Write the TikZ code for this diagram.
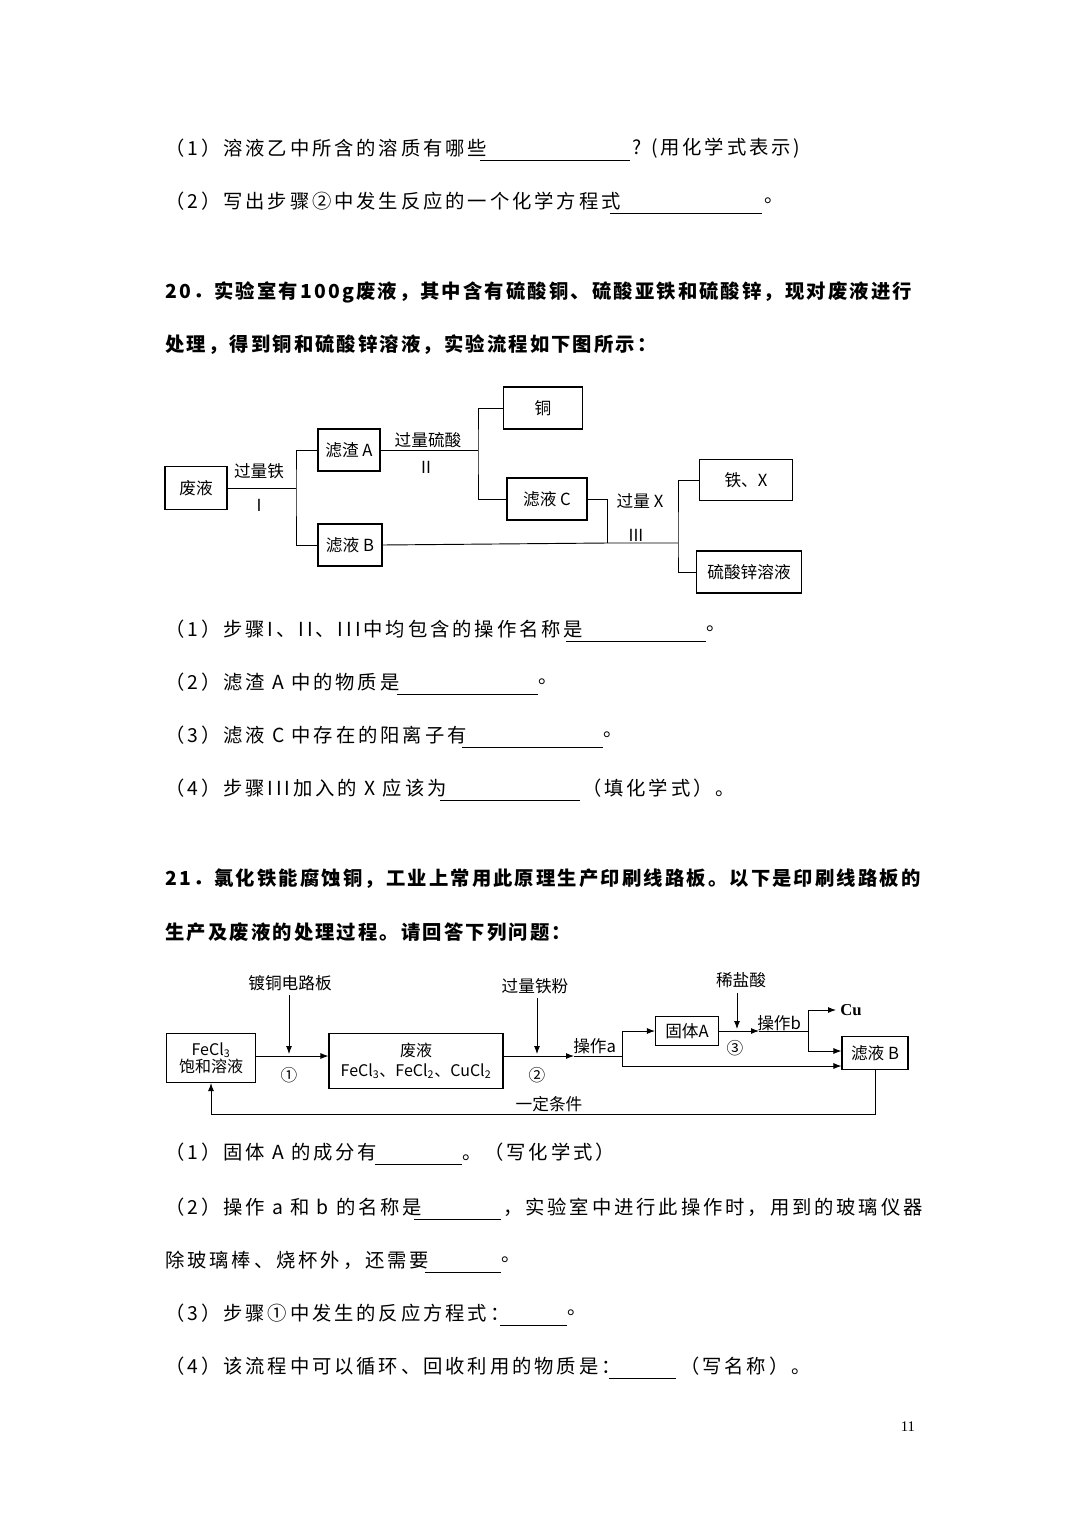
\documentclass[tikz,border=0pt]{standalone}
\usepackage{fontspec}
\setmainfont{Liberation Serif}
\newfontfamily\cjk{Noto Sans CJK SC}
\newfontfamily\cjkt[LetterSpace=15]{Noto Sans CJK SC}
\newfontfamily\cjkh[LetterSpace=11]{Noto Sans CJK SC}
\usetikzlibrary{arrows.meta}
\begin{document}
\begin{tikzpicture}[x=0.75pt,y=-0.75pt,
  txt/.style={anchor=west,inner sep=0,font=\cjkt\fontsize{14.5}{16}\selectfont},
  hd/.style={anchor=west,inner sep=0,font=\cjkh\bfseries\fontsize{14.5}{16}\selectfont},
  bx/.style={draw,line width=0.8pt,minimum height=#1*0.75pt,inner sep=0,font=\cjk\fontsize{12.5}{14}\selectfont},
  lb/.style={inner sep=0,font=\cjk\fontsize{12.5}{14}\selectfont},
  ln/.style={line width=0.7pt},
  ar/.style={line width=0.7pt,-{Latex[length=6pt,width=4.5pt]}},
  ul/.style={line width=0.5pt}]
\path[fill=white] (0,0) rectangle (1080,1528);
% ---- text
\node[txt] (t1) at (165,148) {（1）溶液乙中所含的溶质有哪些};
\draw[ul] (480,160) -- (630,160);
\node[txt] (t1b) at (632,148) {? (用化学式表示)};
\node[txt] (t2) at (165,201) {（2）写出步骤②中发生反应的一个化学方程式};
\draw[ul] (610,213) -- (762,213);
\node[txt] at (764,201) {。};
\node[hd] (t3) at (165,292) {20．实验室有100g废液，其中含有硫酸铜、硫酸亚铁和硫酸锌，现对废液进行};
\node[hd] (t4) at (165,345) {处理，得到铜和硫酸锌溶液，实验流程如下图所示：};
% ---- diagram 1
\node[bx=43,minimum width=62*0.75pt] (fy) at (196,488) {废液};
\node[bx=42,minimum width=62*0.75pt] (lza) at (349,450) {滤渣 A};
\node[bx=42,minimum width=64*0.75pt] (lyb) at (350,545) {滤液 B};
\node[bx=42,minimum width=79*0.75pt] (tong) at (543,408) {铜};
\node[bx=42,minimum width=80*0.75pt] (lyc) at (547,499) {滤液 C};
\node[bx=41,minimum width=93*0.75pt] (tx) at (746,480) {铁、X};
\node[bx=42,minimum width=105*0.75pt] (zn) at (749,572) {硫酸锌溶液};
\coordinate (j1) at (296,488);
\draw[ln] (fy.east) -- (j1);
\draw[ln] (lza.west) -| (j1) |- (lyb.west);
\node[lb] at (259,471) {过量铁};
\node[lb] at (259,505) {I};
\coordinate (j2) at (478,450);
\draw[ln] (lza.east) -- (j2);
\draw[ln] (tong.west) -| (j2) |- (lyc.west);
\node[lb] at (428,440) {过量硫酸};
\node[lb] at (426,467) {II};
\coordinate (j3) at (607,543);
\coordinate (j4) at (678,543);
\draw[ln] (lyc.east) -| (j3);
\draw[ln] (lyb.east) -- (j3) -- (j4);
\draw[ln] (tx.west) -| (j4) |- (zn.west);
\node[lb] at (640,501) {过量 X};
\node[lb] at (636,535) {III};
% ---- questions
\node[txt] at (165,629) {（1）步骤I、II、III中均包含的操作名称是};
\draw[ul] (566,641) -- (706,641);
\node[txt] at (706,629) {。};
\node[txt] at (165,682) {（2）滤渣 A 中的物质是};
\draw[ul] (397,694) -- (538,694);
\node[txt] at (538,682) {。};
\node[txt] at (165,735) {（3）滤液 C 中存在的阳离子有};
\draw[ul] (462,747) -- (603,747);
\node[txt] at (603,735) {。};
\node[txt] at (165,788) {（4）步骤III加入的 X 应该为};
\draw[ul] (440,800) -- (580,800);
\node[txt] at (582,788) {（填化学式）。};
\node[hd] at (165,879) {21．氯化铁能腐蚀铜，工业上常用此原理生产印刷线路板。以下是印刷线路板的};
\node[hd] at (165,932) {生产及废液的处理过程。请回答下列问题：};
% ---- diagram 2
\node[bx=49,minimum width=89*0.75pt,align=center,font=\cjk\fontsize{12}{13}\selectfont] (fecl) at (211,1058) {FeCl\textsubscript{3}\\饱和溶液};
\node[bx=55,minimum width=174*0.75pt,align=center,font=\cjk\fontsize{12}{15}\selectfont] (fy2) at (416,1061) {废液\\FeCl\textsubscript{3}、FeCl\textsubscript{2}、CuCl\textsubscript{2}};
\node[bx=29,minimum width=63*0.75pt] (gta) at (687,1031) {固体A};
\node[bx=33,minimum width=66*0.75pt] (lyb2) at (875,1053) {滤液 B};
\coordinate (fyin) at (fy2.west |- 0,1056);
\draw[ar] (fecl.east |- 0,1056) -- (fyin);
\node[lb] (dt) at (290,983) {镀铜电路板};
\draw[ar] (289,995) -- (289,1054);
\node[lb] at (289,1075) {①};
\coordinate (oa) at (574,1056);
\draw[ar] (fy2.east |- 0,1056) -- (oa);
\node[lb] (gtf) at (535,986) {过量铁粉};
\draw[ar] (537,998) -- (537,1054);
\node[lb] at (537,1075) {②};
\node[lb,anchor=south west] at (573,1054) {操作a};
\coordinate (j5) at (622,1056);
\draw[ln] (oa) -- (j5);
\draw[ar] (j5) |- (gta.west);
\draw[ar] (j5) |- (lyb2.west |- 0,1066);
\node[lb] at (741,980) {稀盐酸};
\draw[ar] (737,993) -- (737,1029);
\coordinate (ob) at (759,1031);
\draw[ar] (gta.east) -- (ob);
\node[lb] at (735,1048) {③};
\node[lb,anchor=south west] at (757,1031) {操作b};
\coordinate (j6) at (808,1031);
\draw[ln] (ob) -- (j6);
\coordinate (cu) at (836,1010);
\draw[ar] (j6) |- (cu);
\node[lb,anchor=west,font=\fontsize{12.5}{14}\selectfont\bfseries] at (840,1010) {Cu};
\draw[ar] (j6) |- (lyb2.west |- 0,1051);
\draw[ar] (lyb2.south) -- ++(0,44) -| (fecl.south);
\node[lb] at (549,1104) {一定条件};
% ---- questions
\node[txt] at (165,1152) {（1）固体 A 的成分有};
\draw[ul] (375,1164) -- (462,1164);
\node[txt] at (462,1152) {。（写化学式）};
\node[txt] at (165,1207) {（2）操作 a 和 b 的名称是};
\draw[ul] (414,1219) -- (501,1219);
\node[txt] at (503,1207) {，实验室中进行此操作时，用到的玻璃仪器};
\node[txt] at (165,1260) {除玻璃棒、烧杯外，还需要};
\draw[ul] (425,1272) -- (501,1272);
\node[txt] at (501,1260) {。};
\node[txt] at (165,1313) {（3）步骤①中发生的反应方程式：};
\draw[ul] (500,1325) -- (567,1325);
\node[txt] at (567,1313) {。};
\node[txt] at (165,1366) {（4）该流程中可以循环、回收利用的物质是：};
\draw[ul] (609,1378) -- (676,1378);
\node[txt] at (680,1366) {（写名称）。};
\node[inner sep=0,font=\fontsize{11}{12}\selectfont] at (908,1427) {11};
\end{tikzpicture}
\end{document}
